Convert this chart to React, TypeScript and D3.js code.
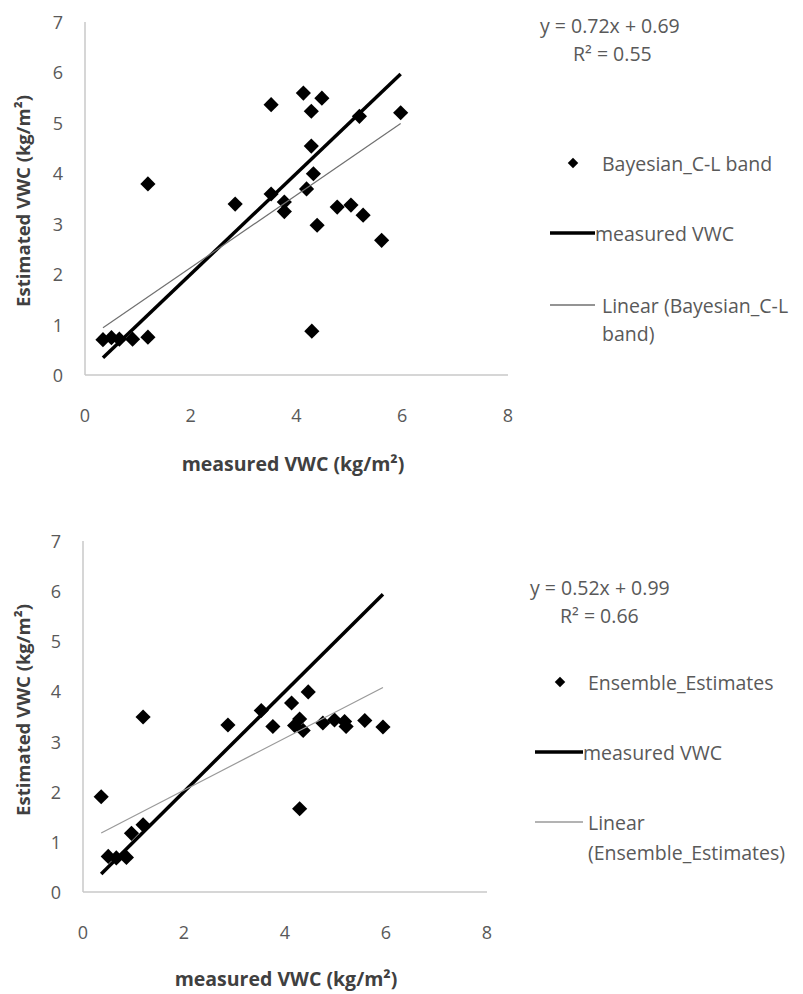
import React from "react";
import * as d3 from "d3";

// measured VWC (x) vs estimated VWC (y), kg/m2
const bayesMeasured = [0.34, 0.5, 0.65, 0.9, 1.19, 1.19, 2.84, 3.52, 3.52, 3.77, 3.77, 4.13, 4.19, 4.28, 4.28, 4.32, 4.39, 4.48, 4.29, 4.77, 5.03, 5.19, 5.26, 5.61, 5.97];
const bayesEstimated = [0.7, 0.74, 0.71, 0.71, 0.75, 3.79, 3.39, 5.36, 3.59, 3.43, 3.24, 5.59, 3.69, 5.23, 4.54, 3.99, 2.97, 5.49, 0.87, 3.33, 3.37, 5.13, 3.17, 2.67, 5.2];

const ensMeasured = [0.36, 0.5, 0.66, 0.86, 0.96, 1.19, 1.19, 2.87, 3.53, 3.76, 4.13, 4.19, 4.29, 4.29, 4.36, 4.46, 4.75, 4.98, 5.18, 5.21, 5.58, 5.94];
const ensEstimated = [1.9, 0.71, 0.68, 0.69, 1.17, 1.34, 3.49, 3.33, 3.62, 3.3, 3.77, 3.32, 3.45, 1.66, 3.22, 3.99, 3.37, 3.43, 3.4, 3.3, 3.42, 3.29];

const xTicks = [0, 2, 4, 6, 8];
const yTicks = [0, 1, 2, 3, 4, 5, 6, 7];

const fits = [
  { slope: 0.72, intercept: 0.69, eq: "y = 0.72x + 0.69", r2: "0.55" },
  { slope: 0.52, intercept: 0.99, eq: "y = 0.52x + 0.99", r2: "0.66" },
];

const seriesNames = ["Bayesian_C-L band", "Ensemble_Estimates"];
const linearLabels = [["Linear (Bayesian_C-L", "band)"], ["Linear", "(Ensemble_Estimates)"]];

const FONT = "'Open Sans', 'Liberation Sans', sans-serif";
const TXT = "#595959";
const LEG = 19.5;

function Panel(p: any) {
  const L = p.layout;
  const x = d3.scaleLinear().domain([0, 8]).range([L.left, L.right]);
  const y = d3.scaleLinear().domain([0, 7]).range([L.bottom, L.top]);

  const pts = p.xs.map((v: number, i: number) => [v, p.ys[i]]);
  const lo = d3.min(p.xs) as number;
  const hi = d3.max(p.xs) as number;
  const line = d3.line<number[]>().x((d) => x(d[0])).y((d) => y(d[1]));
  const measured = [[lo, lo], [hi, hi]];
  const trend = [[lo, p.fit.slope * lo + p.fit.intercept], [hi, p.fit.slope * hi + p.fit.intercept]];
  const diamond = d3.symbol(d3.symbolSquare, 115)();
  const small = d3.symbol(d3.symbolSquare, 55)();
  const G = L.leg;

  return (
    <g fontFamily={FONT}>
      <line x1={L.left} y1={L.top} x2={L.left} y2={L.bottom} stroke="#c8c8c8" strokeWidth={1.5} />
      <line x1={L.left} y1={L.bottom} x2={L.right} y2={L.bottom} stroke="#c8c8c8" strokeWidth={1.5} />
      {yTicks.map((t) => (
        <text key={"y" + t} x={L.left - 22} y={y(t)} textAnchor="end" dominantBaseline="central" fontSize={18} fill={TXT}>{t}</text>
      ))}
      {xTicks.map((t) => (
        <text key={"x" + t} x={x(t)} y={L.bottom + 40} textAnchor="middle" dominantBaseline="central" fontSize={18} fill={TXT}>{t}</text>
      ))}
      <text x={L.xTitle[0]} y={L.xTitle[1]} textAnchor="middle" dominantBaseline="central" fontSize={19.5} fontWeight="bold" fill="#404040">measured VWC (kg/m²)</text>
      <text transform={`translate(${L.yTitle[0]},${L.yTitle[1]}) rotate(-90)`} textAnchor="middle" dominantBaseline="central" fontSize={18.5} fontWeight="bold" fill="#404040">Estimated VWC (kg/m²)</text>

      {pts.map((d: number[], i: number) => (
        <path key={i} d={diamond} transform={`translate(${x(d[0])},${y(d[1])}) rotate(45)`} fill="#000" />
      ))}
      <path d={line(measured as any) || ""} stroke="#000" strokeWidth={3.5} fill="none" />
      <path d={line(trend as any) || ""} stroke={p.trendColor} strokeWidth={1.2} fill="none" />

      <text x={G.eq[0]} y={G.eq[1]} dominantBaseline="central" fontSize={LEG} fill={TXT}>{p.fit.eq}</text>
      <text x={G.r2[0]} y={G.r2[1]} dominantBaseline="central" fontSize={LEG} fill={TXT}>R² = {p.fit.r2}</text>

      <path d={small} transform={`translate(${G.marker[0]},${G.marker[1]}) rotate(45)`} fill="#000" />
      <text x={G.text} y={G.marker[1]} dominantBaseline="central" fontSize={LEG} fill={TXT}>{p.name}</text>

      <line x1={G.line[0]} x2={G.line[1]} y1={G.thickY} y2={G.thickY} stroke="#000" strokeWidth={3.5} />
      <text x={G.line[1]} y={G.thickY} dominantBaseline="central" fontSize={LEG} fill={TXT}>measured VWC</text>

      <line x1={G.line[0]} x2={G.line[1]} y1={G.thinY} y2={G.thinY} stroke={p.trendColor} strokeWidth={1.5} />
      {p.linear.map((s: string, i: number) => (
        <text key={i} x={G.text} y={G.thinY + i * G.lineGap} dominantBaseline="central" fontSize={LEG} fill={TXT}>{s}</text>
      ))}
    </g>
  );
}

const layouts = [
  {
    left: 85, right: 508, top: 22, bottom: 375,
    xTitle: [293, 463], yTitle: [22, 201],
    leg: { eq: [540, 25], r2: [573, 53], marker: [573, 163], text: 602, line: [550, 595], thickY: 233, thinY: 305, lineGap: 28 },
  },
  {
    left: 83, right: 487, top: 541, bottom: 892,
    xTitle: [286, 978], yTitle: [22, 710],
    leg: { eq: [530, 587], r2: [560, 615], marker: [560, 682], text: 588, line: [535, 583], thickY: 752, thinY: 822, lineGap: 30 },
  },
];

export default function App() {
  return (
    <svg width={803} height={994} style={{ position: "absolute", left: 0, top: 0, background: "#fff" }}>
      <rect width={803} height={994} fill="#fff" />
      <Panel layout={layouts[0]} xs={bayesMeasured} ys={bayesEstimated} fit={fits[0]} name={seriesNames[0]} linear={linearLabels[0]} trendColor="#707070" />
      <Panel layout={layouts[1]} xs={ensMeasured} ys={ensEstimated} fit={fits[1]} name={seriesNames[1]} linear={linearLabels[1]} trendColor="#9a9a9a" />
    </svg>
  );
}
